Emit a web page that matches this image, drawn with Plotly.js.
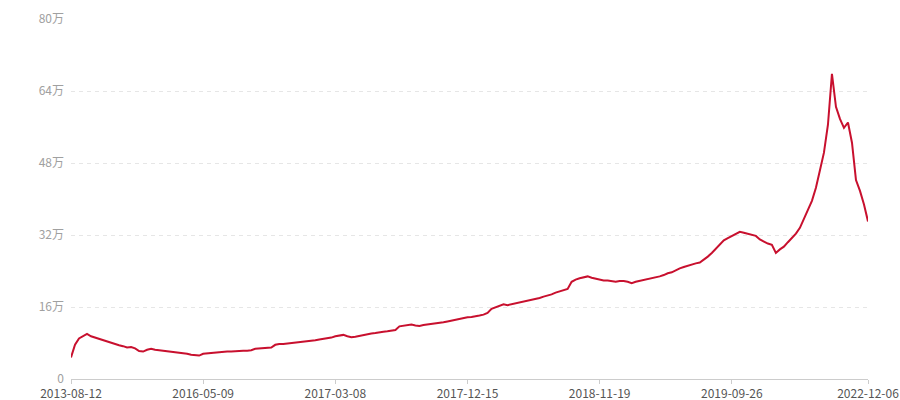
<!DOCTYPE html>
<html>
<head>
<meta charset="utf-8">
<script src="https://cdn.plot.ly/plotly-3.0.1.min.js"></script>
<style>
  html, body { margin: 0; padding: 0; background: #fff; }
  #chart { width: 900px; height: 400px; }
</style>
</head>
<body>
<div id="chart"></div>
<script>
/* -------------------- Data (万) -------------------- */

const values = [
  4.8, 7.6, 9.0, 9.5, 10.0, 9.5, 9.2, 8.9, 8.7, 8.3,
  8.0, 7.7, 7.5, 7.3, 7.0, 7.1, 6.8, 6.2, 6.1, 6.5,
  6.7, 6.5, 6.4, 6.3, 6.1, 6.0, 5.9, 5.8, 5.7, 5.6,
  5.4, 5.3, 5.2, 5.6, 5.7, 5.8, 5.8, 6.0, 6.0, 6.1,
  6.1, 6.2, 6.2, 6.3, 6.3, 6.4, 6.7, 6.8, 6.9, 6.9,
  7.0, 7.6, 7.8, 7.8, 7.9, 7.9, 8.0, 8.1, 8.2, 8.3,
  8.4, 8.6, 8.8, 8.9, 9.1, 9.2, 9.5, 9.7, 9.8, 9.5,
  9.3, 9.4, 9.6, 9.8, 10.0, 10.1, 10.2, 10.4, 10.5, 10.6,
  10.7, 10.9, 11.7, 11.8, 12.0, 12.1, 11.9, 11.8, 12.0, 12.1,
  12.2, 12.4, 12.5, 12.6, 12.8, 13.0, 13.1, 13.3, 13.5, 13.7,
  13.8, 13.9, 14.1, 14.3, 14.7, 15.6, 15.9, 16.3, 16.6, 16.4,
  16.6, 16.8, 17.0, 17.1, 17.3, 17.6, 17.8, 18.0, 18.3, 18.5,
  18.8, 19.2, 19.5, 19.8, 20.0, 21.6, 22.1, 22.4, 22.6, 22.8,
  22.5, 22.3, 22.0, 21.9, 21.9, 21.7, 21.6, 21.8, 21.8, 21.6,
  21.3, 21.6, 21.8, 22.0, 22.1, 22.3, 22.5, 22.8, 23.1, 23.5,
  23.7, 24.2, 24.6, 24.9, 25.2, 25.5, 25.7, 25.9, 26.5, 27.2,
  28.0, 29.0, 30.0, 30.8, 31.3, 31.8, 32.2, 32.7, 32.5, 32.3,
  32.1, 31.8, 31.0, 30.5, 30.1, 29.8, 28.0, 28.8, 29.4, 30.4,
  31.3, 32.3, 33.6, 35.8, 37.6, 39.6, 42.5, 46.4, 50.3, 56.5,
  67.8, 60.5, 57.8, 55.8, 57.0, 52.5, 44.2, 41.8, 38.8, 35.0
];

// category positions of the labelled dates
const dateTickIdx = [0, 33, 66, 99, 132, 165, 199];
const dateTickText = [
  "2013-08-12", "2016-05-09", "2017-03-08", "2017-12-15",
  "2018-11-19", "2019-09-26", "2022-12-06"
];

const yTickVals = [0, 16, 32, 48, 64, 80];
const yTickText = ["0", "16万", "32万", "48万", "64万", "80万"];

/* -------------------- Chart -------------------- */

const FONT = "'Noto Sans CJK SC', 'Noto Sans', sans-serif";

const trace = {
  x: values.map((_, i) => i),
  y: values,
  type: "scatter",
  mode: "lines",
  line: { color: "#c8102e", width: 2 },
  hoverinfo: "skip",
};

const layout = {
  width: 900,
  height: 400,
  margin: { t: 19, l: 71, r: 32, b: 21 },
  paper_bgcolor: "#fff",
  plot_bgcolor: "#fff",
  showlegend: false,
  font: { family: FONT, size: 12 },
  xaxis: {
    range: [0, values.length - 1],
    tickvals: dateTickIdx,
    ticktext: dateTickText,
    showgrid: false,
    zeroline: false,
    showline: true,
    linecolor: "#cccccc",
    linewidth: 1,
    ticks: "outside",
    ticklen: 4,
    tickcolor: "#cccccc",
    tickfont: { family: FONT, size: 12, color: "#555555" },
    fixedrange: true,
  },
  yaxis: {
    range: [0, 80],
    tickvals: yTickVals,
    ticktext: yTickText,
    showgrid: true,
    gridcolor: "#e6e6e6",
    griddash: "4px,4px",
    zeroline: false,
    showline: false,
    ticks: "",
    ticklabelstandoff: 6,
    tickfont: { family: FONT, size: 12, color: "#a0a0a0" },
    fixedrange: true,
  },
};

Plotly.newPlot("chart", [trace], layout, { displayModeBar: false, staticPlot: true });
</script>
</body>
</html>
